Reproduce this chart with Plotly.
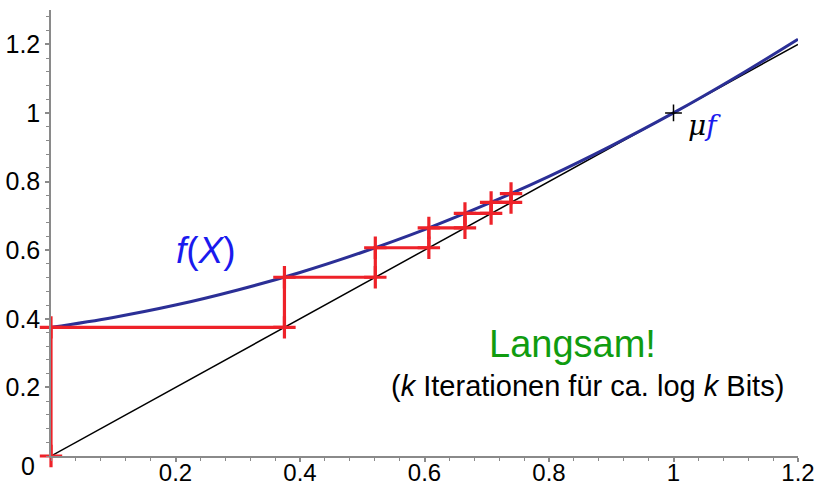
import plotly.graph_objects as go

curve_x = [0.0, 0.1, 0.2, 0.3, 0.4, 0.5, 0.6, 0.7, 0.8, 0.9, 1.0, 1.1, 1.2]
curve_y = [0.375, 0.404, 0.44, 0.484, 0.535, 0.594, 0.66, 0.734, 0.815, 0.904, 1.0, 1.104, 1.215]

# Diagonal y = x
diag_x = [0.0, 1.2]
diag_y = [0.0, 1.2]

# Fixed-point iterates
iterates = [0.0, 0.375, 0.521, 0.607, 0.665, 0.707, 0.739, 0.765]

# Fixed point mu f
mu_x = [1.0]
mu_y = [1.0]

x_ticks = [0.2, 0.4, 0.6, 0.8, 1.0, 1.2]
x_ticktext = ["0.2", "0.4", "0.6", "0.8", "1", "1.2"]
y_ticks = [0.2, 0.4, 0.6, 0.8, 1.0, 1.2]
y_ticktext = ["0.2", "0.4", "0.6", "0.8", "1", "1.2"]
origin_label = "0"

# Cobweb path built from the iterates
web_x, web_y = [], []
for i in range(len(iterates) - 1):
    web_x += [iterates[i], iterates[i]]
    web_y += [iterates[i], iterates[i + 1]]

FONT = "Liberation Sans, Arial, sans-serif"
RED = "#ee2229"
BLUE_CURVE = "#2b2f96"

fig = go.Figure()
fig.add_trace(go.Scatter(x=diag_x, y=diag_y, mode="lines", cliponaxis=False,
                         line=dict(color="black", width=1.5), hoverinfo="skip"))
fig.add_trace(go.Scatter(x=curve_x, y=curve_y, mode="lines", cliponaxis=False,
                         line=dict(color=BLUE_CURVE, width=3, shape="spline", smoothing=1.0),
                         hoverinfo="skip"))
fig.add_trace(go.Scatter(x=web_x, y=web_y, mode="lines", cliponaxis=False,
                         line=dict(color=RED, width=3.2), hoverinfo="skip"))
fig.add_trace(go.Scatter(x=web_x, y=web_y, mode="markers", cliponaxis=False,
                         marker=dict(symbol="cross-thin", size=16,
                                     line=dict(color=RED, width=3.2)),
                         hoverinfo="skip"))
fig.add_trace(go.Scatter(x=mu_x, y=mu_y, mode="markers", cliponaxis=False,
                         marker=dict(symbol="cross-thin", size=12,
                                     line=dict(color="black", width=1.5)),
                         hoverinfo="skip"))

annotations = [
    dict(x=0.249, y=0.60, text="<i>f</i>(<i>X</i>)", showarrow=False,
         font=dict(family=FONT, size=37, color="#1a1aee")),
    dict(x=1.02, y=0.99, xanchor="left", yanchor="top", yshift=9,
         text="<i>μ</i><span style='color:#1a1aee'><i>f</i></span>", showarrow=False,
         font=dict(family="DejaVu Serif, serif", size=28, color="black")),
    dict(x=0.838, y=0.326, text="Langsam!", showarrow=False,
         font=dict(family=FONT, size=38, color="#109c10")),
    dict(x=0.862, y=0.204, text="(<i>k</i> Iterationen für ca. log <i>k</i> Bits)",
         showarrow=False, font=dict(family=FONT, size=29, color="black")),
    dict(x=0, y=0, text=origin_label, showarrow=False, xanchor="right", yanchor="middle",
         xshift=-14, yshift=-10, font=dict(family=FONT, size=25, color="black")),
]

axis_common = dict(showgrid=False, zeroline=False, showline=True, automargin=False,
                   linecolor="#8a8a8a", linewidth=1.5,
                   ticks="outside", ticklen=4, tickcolor="#8a8a8a", tickwidth=1.5,
                   minor=dict(tickmode="linear", tick0=0, dtick=0.04, ticks="outside",
                              ticklen=3, tickcolor="#8a8a8a", tickwidth=1.2))

fig.update_layout(
    width=822, height=485,
    margin=dict(l=51, r=24, t=10, b=29),
    paper_bgcolor="white", plot_bgcolor="white",
    showlegend=False,
    annotations=annotations,
    xaxis=dict(range=[0, 1.2], tickmode="array", tickvals=x_ticks, ticktext=x_ticktext,
               ticklabelstandoff=-10, tickfont=dict(family=FONT, size=24, color="black"),
               **axis_common),
    yaxis=dict(range=[0, 1.3], tickmode="array", tickvals=y_ticks, ticktext=y_ticktext,
               tickfont=dict(family=FONT, size=25, color="black"),
               **axis_common),
)

fig.write_html("out.html", config={"displayModeBar": False},
               post_script="document.body.style.margin='0px';")
